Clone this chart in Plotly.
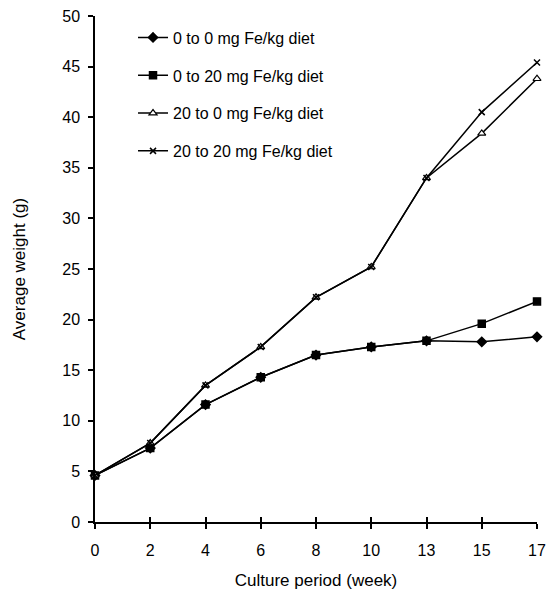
import plotly.graph_objects as go

weeks = ["0", "2", "4", "6", "8", "10", "13", "15", "17"]
s_0_0 = [4.6, 7.3, 11.6, 14.3, 16.5, 17.3, 17.9, 17.8, 18.3]
s_0_20 = [4.6, 7.3, 11.6, 14.3, 16.5, 17.3, 17.9, 19.6, 21.8]
s_20_0 = [4.6, 7.8, 13.5, 17.3, 22.2, 25.2, 34.0, 38.4, 43.8]
s_20_20 = [4.6, 7.8, 13.5, 17.3, 22.2, 25.2, 34.0, 40.5, 45.4]
names = ["0 to 0 mg Fe/kg diet", "0 to 20 mg Fe/kg diet",
         "20 to 0 mg Fe/kg diet", "20 to 20 mg Fe/kg diet"]
series = [s_0_0, s_0_20, s_20_0, s_20_20]
symbols = ["diamond", "square", "triangle-up", "x-thin-open"]
sizes = [7, 7, 7, 6]
fills = ["black", "black", "white", "black"]
mlw = [1.5, 1.5, 1.2, 1.5]

FONT = "Arial, Liberation Sans, sans-serif"
fig = go.Figure()
for i, (nm, ys) in enumerate(zip(names, series)):
    fig.add_trace(go.Scatter(
        x=weeks, y=ys, name=nm, mode="lines+markers",
        line=dict(color="black", width=1.5),
        marker=dict(symbol=symbols[i], size=sizes[i], color=fills[i],
                    line=dict(color="black", width=mlw[i])),
        cliponaxis=False, legendgroup=f"g{i}",
    ))

# helper trace for the inside half of the crossing x ticks
fig.add_trace(go.Scatter(x=weeks, y=s_0_0, xaxis="x2", mode="markers",
                         marker=dict(opacity=0), showlegend=False,
                         hoverinfo="skip"))

fig.update_layout(
    width=548, height=594,
    margin=dict(l=95, r=11, t=16, b=72, autoexpand=False),
    paper_bgcolor="white", plot_bgcolor="white",
    font=dict(family=FONT, size=16, color="black"),
    showlegend=True,
    legend=dict(x=0.086, y=0.991, xanchor="left", yanchor="top",
                bgcolor="rgba(0,0,0,0)", font=dict(size=16),
                tracegroupgap=14, traceorder="grouped"),
    xaxis=dict(type="category", range=[0, 8], showline=True,
               linecolor="black", linewidth=1.5, ticks="outside",
               ticklen=5, tickwidth=1.5, tickcolor="black",
               ticklabelstandoff=8, ticklabeloverflow="allow",
               automargin=False,
               showgrid=False, zeroline=False,
               title=dict(text="Culture period (week)", standoff=16,
                          font=dict(size=17))),
    xaxis2=dict(type="category", range=[0, 8], overlaying="x",
                anchor="y", side="bottom", ticks="inside", ticklen=5,
                tickwidth=1.5, tickcolor="black", showticklabels=False,
                automargin=False,
                showgrid=False, zeroline=False, showline=False),
    yaxis=dict(range=[0, 50], dtick=5, showline=True, linecolor="black",
               linewidth=1.5, ticks="outside", ticklen=5, tickwidth=1.5,
               tickcolor="black", showgrid=False, zeroline=False,
               ticklabelstandoff=5, ticklabeloverflow="allow",
               automargin=False,
               title=dict(text="Average weight (g)", standoff=32,
                          font=dict(size=17))),
)

fig.write_html("out.html",
               config={"displayModeBar": False},
               post_script="document.body.style.margin='0';"
                           "document.body.style.overflow='hidden';")
